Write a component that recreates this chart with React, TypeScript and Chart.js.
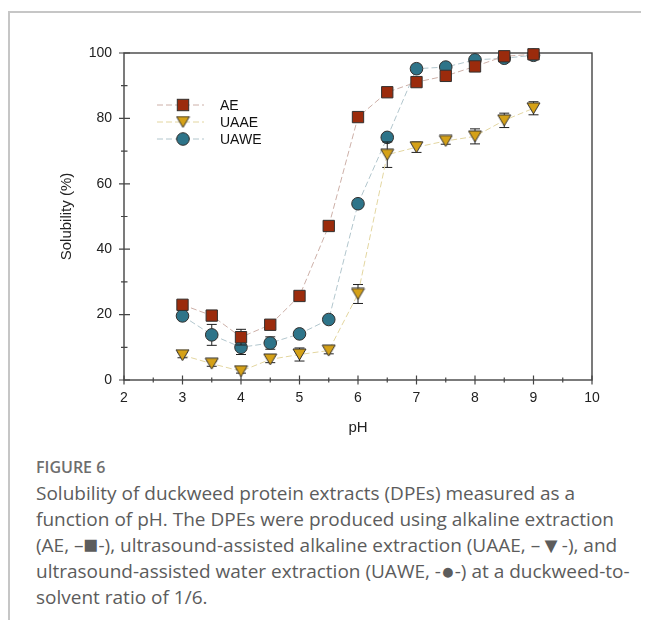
import React, { useEffect, useRef } from "react";
import { Chart, registerables } from "chart.js";

Chart.register(...registerables);

const pH = [3, 3.5, 4, 4.5, 5, 5.5, 6, 6.5, 7, 7.5, 8, 8.5, 9];
const AE = [23.0, 19.7, 13.1, 16.9, 25.7, 47.1, 80.4, 88.0, 91.1, 93.0, 95.9, 99.0, 99.6];
const UAAE = [7.6, 5.0, 2.7, 6.3, 7.8, 9.0, 26.3, 68.9, 71.2, 73.1, 74.5, 79.4, 83.1];
const UAWE = [19.6, 13.8, 10.0, 11.3, 14.1, 18.5, 53.9, 74.2, 95.2, 95.7, 97.9, 98.4, 99.3];
const AE_ERR = [0.8, 0.8, 2.4, 0.8, 0.8, 0.6, 0.6, 0.6, 0.6, 0.6, 0.6, 0.6, 0.4];
const UAAE_ERR = [0.8, 0.8, 0.6, 1.0, 2.0, 1.0, 2.9, 3.9, 1.6, 1.0, 2.3, 2.2, 2.0];
const UAWE_ERR = [0.8, 3.2, 2.2, 1.9, 0.8, 0.8, 0.8, 1.0, 0.8, 0.8, 0.8, 0.8, 0.6];
const SERIES_NAMES = ["AE", "UAAE", "UAWE"];

const RED = "#9b2b0c";
const GOLD = "#d5a117";
const TEAL = "#2e7489";
const EDGE = "#33302e";

function makeTriangle(): HTMLCanvasElement {
  const c = document.createElement("canvas");
  c.width = 15;
  c.height = 13;
  const ctx = c.getContext("2d")!;
  ctx.beginPath();
  ctx.moveTo(1, 1);
  ctx.lineTo(14, 1);
  ctx.lineTo(7.5, 12);
  ctx.closePath();
  ctx.fillStyle = GOLD;
  ctx.fill();
  ctx.strokeStyle = EDGE;
  ctx.lineWidth = 1;
  ctx.stroke();
  return c;
}

const FONT = "'Liberation Sans', Arial, sans-serif";

export default function App() {
  const ref = useRef<HTMLCanvasElement>(null);

  useEffect(() => {
    const tri = makeTriangle();
    const errs = [AE_ERR, UAAE_ERR, UAWE_ERR];

    const frame = {
      id: "frame",
      beforeDatasetsDraw(chart: any) {
        const { ctx, chartArea: a, scales } = chart;
        ctx.save();
        ctx.strokeStyle = "#444";
        ctx.lineWidth = 1.4;
        ctx.strokeRect(a.left, a.top, a.right - a.left, a.bottom - a.top);
        ctx.lineWidth = 1.2;
        ctx.beginPath();
        for (let v = 0; v <= 100; v += 10) {
          const y = scales.y.getPixelForValue(v);
          const major = v % 20 === 0;
          ctx.moveTo(a.left - (major ? 5 : 3), y);
          ctx.lineTo(a.left + (major ? 6 : 3.5), y);
        }
        for (let v = 2; v <= 10; v += 0.5) {
          const x = scales.x.getPixelForValue(v);
          const major = Number.isInteger(v);
          ctx.moveTo(x, a.bottom - (major ? 4.5 : 2.5));
          ctx.lineTo(x, a.bottom + (major ? 4.5 : 2.5));
        }
        ctx.stroke();
        ctx.restore();
      },
      beforeDatasetDraw(chart: any, args: any) {
        const { ctx, scales } = chart;
        const e = errs[args.index];
        const vals = chart.data.datasets[args.index].data;
        ctx.save();
        ctx.strokeStyle = "#1f1f1f";
        ctx.lineWidth = 1;
        ctx.beginPath();
        vals.forEach((p: any, i: number) => {
          const x = scales.x.getPixelForValue(p.x);
          const y1 = scales.y.getPixelForValue(p.y + e[i]);
          const y2 = scales.y.getPixelForValue(p.y - e[i]);
          ctx.moveTo(x, y1);
          ctx.lineTo(x, y2);
          ctx.moveTo(x - 5, y1);
          ctx.lineTo(x + 5, y1);
          ctx.moveTo(x - 5, y2);
          ctx.lineTo(x + 5, y2);
        });
        ctx.stroke();
        ctx.restore();
      },
      afterDraw(chart: any) {
        const { ctx, chartArea: a } = chart;
        const rows = [52, 69, 86];
        ctx.save();
        chart.data.datasets.forEach((ds: any, i: number) => {
          const y = a.top + rows[i];
          ctx.beginPath();
          ctx.setLineDash([6, 3]);
          ctx.strokeStyle = ds.borderColor;
          ctx.lineWidth = 1;
          ctx.moveTo(a.left + 33, y);
          ctx.lineTo(a.left + 80, y);
          ctx.stroke();
          ctx.setLineDash([]);
          const mx = a.left + 59;
          if (i === 0) {
            ctx.fillStyle = RED;
            ctx.strokeStyle = EDGE;
            ctx.fillRect(mx - 5.7, y - 5.7, 11.4, 11.4);
            ctx.strokeRect(mx - 5.7, y - 5.7, 11.4, 11.4);
          } else if (i === 1) {
            ctx.drawImage(tri, mx - 7.5, y - 6.5);
          } else {
            ctx.beginPath();
            ctx.arc(mx, y, 6.3, 0, Math.PI * 2);
            ctx.fillStyle = TEAL;
            ctx.fill();
            ctx.strokeStyle = EDGE;
            ctx.stroke();
          }
          ctx.fillStyle = "#111";
          ctx.font = `14px ${FONT}`;
          ctx.textBaseline = "middle";
          ctx.fillText(SERIES_NAMES[i], a.left + 96, y + 1);
        });
        ctx.restore();
      },
    };

    const mk = (arr: number[]) => arr.map((y, i) => ({ x: pH[i], y }));

    const chart = new Chart(ref.current!, {
      type: "scatter",
      data: {
        datasets: [
          {
            label: SERIES_NAMES[0],
            data: mk(AE),
            showLine: true,
            borderColor: "#cdb0a8",
            borderWidth: 1,
            borderDash: [6, 3],
            pointStyle: "rect",
            pointRadius: 8,
            pointBackgroundColor: RED,
            pointBorderColor: EDGE,
            pointBorderWidth: 1,
            clip: false as any,
            order: 2,
          },
          {
            label: SERIES_NAMES[1],
            data: mk(UAAE),
            showLine: true,
            borderColor: "#e3d6a0",
            borderWidth: 1,
            borderDash: [6, 3],
            pointStyle: tri as any,
            pointRadius: 7,
            clip: false as any,
            order: 1,
          },
          {
            label: SERIES_NAMES[2],
            data: mk(UAWE),
            showLine: true,
            borderColor: "#b2c6cd",
            borderWidth: 1,
            borderDash: [6, 3],
            pointStyle: "circle",
            pointRadius: 6.3,
            pointBackgroundColor: TEAL,
            pointBorderColor: EDGE,
            pointBorderWidth: 1,
            clip: false as any,
            order: 3,
          },
        ],
      },
      options: {
        animation: false,
        responsive: false,
        events: [],
        layout: { padding: { left: 50, right: 57, top: 45, bottom: 11 } },
        plugins: { legend: { display: false }, tooltip: { enabled: false } },
        scales: {
          x: {
            type: "linear",
            min: 2,
            max: 10,
            grid: { display: false, drawTicks: false },
            border: { display: false },
            ticks: { stepSize: 1, padding: 10, color: "#222", font: { size: 14, family: FONT } },
            title: { display: true, text: "pH", color: "#222", padding: 0, font: { size: 15, family: FONT } },
            afterFit: (s: any) => {
              s.height = 57;
            },
          },
          y: {
            min: 0,
            max: 100,
            grid: { display: false, drawTicks: false },
            border: { display: false },
            ticks: { stepSize: 20, padding: 12, color: "#222", font: { size: 14, family: FONT } },
            title: {
              display: true,
              text: "Solubility (%)",
              color: "#222",
              padding: 0,
              font: { size: 15, family: FONT },
            },
            afterFit: (s: any) => {
              s.width = 66;
            },
          },
        },
      },
      plugins: [frame],
    });
    return () => chart.destroy();
  }, []);

  const glyph = (ch: string, size: string) => (
    <span style={{ fontSize: size, lineHeight: 0, verticalAlign: "-0.05em" }}>{ch}</span>
  );

  return (
    <div style={{ position: "relative", width: 641, height: 612 }}>
      <div
        style={{
          position: "absolute",
          left: 0,
          top: 3,
          width: 641,
          height: 609,
          borderTop: "2px solid #c6c6c6",
          borderLeft: "2px solid #c6c6c6",
          boxSizing: "border-box",
        }}
      />
      <canvas ref={ref} width={641} height={440} style={{ position: "absolute", left: 0, top: 0 }} />
      <div
        style={{
          position: "absolute",
          left: 28,
          top: 449,
          fontFamily: "'Open Sans', sans-serif",
          fontWeight: 600,
          fontSize: 16,
          lineHeight: "20px",
          color: "#6e6e6e",
          whiteSpace: "nowrap",
        }}
      >
        FIGURE 6
      </div>
      <div
        style={{
          position: "absolute",
          left: 28,
          top: 472,
          fontFamily: "'Open Sans', sans-serif",
          fontSize: 19,
          lineHeight: "26px",
          color: "#5c5c5c",
          whiteSpace: "nowrap",
        }}
      >
        Solubility of duckweed protein extracts (DPEs) measured as a
        <br />
        function of pH. The DPEs were produced using alkaline extraction
        <br />
        (AE, –{glyph("■", "1.3em")}-), ultrasound-assisted alkaline extraction (UAAE, –{glyph("▼", "1.15em")}-), and
        <br />
        ultrasound-assisted water extraction (UAWE, -{glyph("●", "1.2em")}-) at a duckweed-to-
        <br />
        solvent ratio of 1/6.
      </div>
    </div>
  );
}
